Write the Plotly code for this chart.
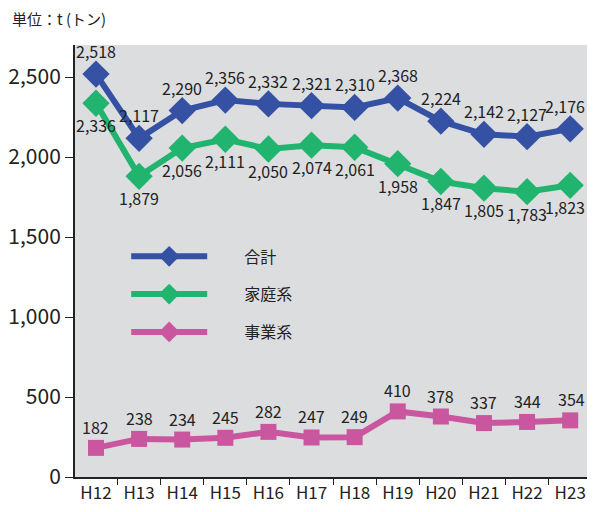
import plotly.graph_objects as go

categories = ["H12", "H13", "H14", "H15", "H16", "H17", "H18", "H19", "H20", "H21", "H22", "H23"]
total = [2518, 2117, 2290, 2356, 2332, 2321, 2310, 2368, 2224, 2142, 2127, 2176]
household = [2336, 1879, 2056, 2111, 2050, 2074, 2061, 1958, 1847, 1805, 1783, 1823]
business = [182, 238, 234, 245, 282, 247, 249, 410, 378, 337, 344, 354]
y_ticks = [0, 500, 1000, 1500, 2000, 2500]
series_names = ["合計", "家庭系", "事業系"]

FONT = "Noto Sans CJK JP"
C_BLUE = "#3451a3"
C_GREEN = "#21b46e"
C_MAG = "#c9569f"
TXT = "#222"

fig = go.Figure()

def fmt(v):
    return f"{v:,}"

fig.add_trace(go.Scatter(
    x=categories, y=total, mode="lines+markers", name=series_names[0],
    line=dict(color=C_BLUE, width=6),
    marker=dict(symbol="diamond", size=21, color=C_BLUE),
    showlegend=False, cliponaxis=False))
fig.add_trace(go.Scatter(
    x=categories, y=household, mode="lines+markers", name=series_names[1],
    line=dict(color=C_GREEN, width=6),
    marker=dict(symbol="diamond", size=21, color=C_GREEN),
    showlegend=False, cliponaxis=False))
fig.add_trace(go.Scatter(
    x=categories, y=business, mode="lines+markers", name=series_names[2],
    line=dict(color=C_MAG, width=6),
    marker=dict(symbol="square", size=16, color=C_MAG),
    showlegend=False, cliponaxis=False))

for nm, col in zip(series_names, [C_BLUE, C_GREEN, C_MAG]):
    fig.add_trace(go.Scatter(
        x=[None], y=[None], mode="lines+markers", name="\u2003\u2003" + nm,
        legendgroup=nm,
        line=dict(color=col, width=6),
        marker=dict(symbol="diamond", size=18, color=col)))

# data labels
n = len(categories)
for vals, dy in [(total, 23), (household, -22), (business, 21)]:
    for i, (c, v) in enumerate(zip(categories, vals)):
        last = (i == n - 1)
        fig.add_annotation(
            x=c, y=v, text=fmt(v), showarrow=False,
            xanchor=("right" if last else "center"), yanchor="middle",
            yshift=dy, xshift=(17 if last else 0),
            font=dict(size=16, family=FONT, color=TXT))

fig.update_layout(
    width=579, height=496,
    margin=dict(l=67, r=0, t=37, b=27, autoexpand=False),
    paper_bgcolor="white", plot_bgcolor="#dcdddf",
    font=dict(family=FONT, color=TXT),
    legend=dict(x=0.1, y=0.55, xanchor="left", yanchor="top",
                bgcolor="rgba(0,0,0,0)", font=dict(size=16, family=FONT),
                tracegroupgap=14, itemwidth=76),
)
fig.add_annotation(text="単位：t (トン)", xref="paper", yref="paper",
                   x=-65/512, y=1 + 27/432, xanchor="left", yanchor="middle",
                   showarrow=False, font=dict(size=15, family=FONT, color=TXT))

fig.update_xaxes(
    type="category", tickson="boundaries", ticks="outside", ticklen=6,
    tickcolor=TXT, showline=True, linecolor=TXT, linewidth=2, tickangle=0,
    showgrid=False, tickfont=dict(size=17, family=FONT, color=TXT),
    range=[-0.487, 11.39])
fig.update_yaxes(
    range=[0, 2700], tickvals=y_ticks, ticktext=[fmt(v) for v in y_ticks],
    ticks="outside", ticklen=8, tickcolor=TXT, showline=True,
    linecolor=TXT, linewidth=2, showgrid=False, zeroline=False,
    tickfont=dict(size=21, family=FONT, color=TXT))

fig.write_html("out.html")
